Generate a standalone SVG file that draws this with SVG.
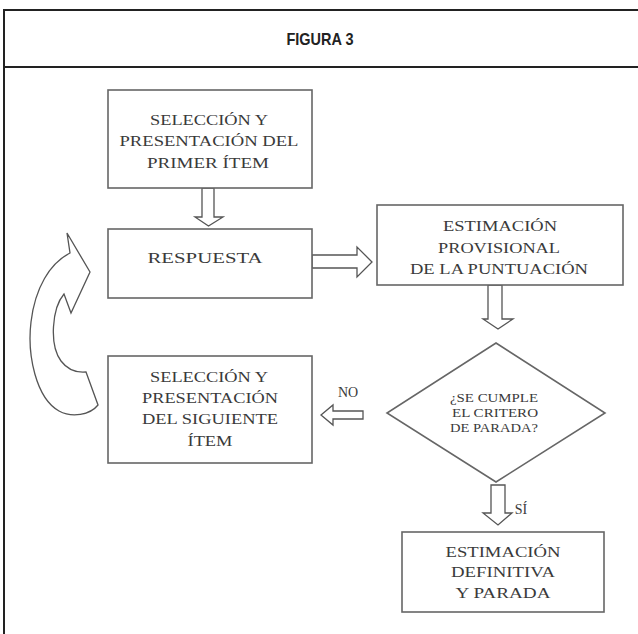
<svg xmlns="http://www.w3.org/2000/svg" width="638" height="634" viewBox="0 0 638 634">
<style>
.frame{fill:none;stroke:#222;stroke-width:2}
.box{fill:#fff;stroke:#666;stroke-width:1.6}
.arr{fill:#fff;stroke:#555;stroke-width:1.3;stroke-linejoin:miter}
.t{font-family:"Liberation Serif","Times New Roman",serif;font-size:15px;fill:#3a3a3a;text-anchor:middle}
.s{font-size:12.5px}
.l{font-size:14px}
.h{font-family:"Liberation Sans",Arial,sans-serif;font-size:17px;font-weight:bold;fill:#222;text-anchor:middle}
</style>
<rect width="638" height="634" fill="#fff"/>
<g id="frame">
<rect class="frame" x="4" y="10" width="700" height="700"/>
<line class="frame" x1="4" y1="67" x2="638" y2="67"/>
<text class="h" x="320" y="45" textLength="67" lengthAdjust="spacingAndGlyphs">FIGURA 3</text>
</g>
<g id="connectors">
<path class="arr" d="M202,188 L214,188 L214,217 L223,217 L208.5,226 L195,217 L202,217 Z"/>
<path class="arr" d="M312,255 L357,255 L357,247 L372,262 L357,277 L357,268 L312,268 Z"/>
<path class="arr" d="M488,285 L502,285 L502,319 L513,319 L498,329 L483,319 L488,319 Z"/>
<path class="arr" d="M363,411 L333,411 L333,405 L321,415 L333,425 L333,419 L363,419 Z"/>
<path class="arr" d="M491,485 L505,485 L505,513 L512,513 L498,525 L483,513 L491,513 Z"/>
<path class="arr" d="M67,233 L90,272 L71,313 L64,294 C52,308 49,345 61,361 C67,369 75,373 86,372 L98,405 C90,415 72,418 59,411 C36,398 27,355 31,322 C35,288 50,263 70,253 Z"/>
<text class="t l" x="348" y="397">NO</text>
<text class="t l" x="521" y="514">SÍ</text>
</g>
<g id="n1">
<rect class="box" x="108" y="90" width="204" height="98"/>
<text class="t" x="209" y="125" textLength="118" lengthAdjust="spacingAndGlyphs">SELECCIÓN Y</text>
<text class="t" x="209" y="146" textLength="179" lengthAdjust="spacingAndGlyphs">PRESENTACIÓN DEL</text>
<text class="t" x="208" y="168" textLength="122" lengthAdjust="spacingAndGlyphs">PRIMER ÍTEM</text>
</g>
<g id="n2">
<rect class="box" x="108" y="229" width="204" height="69"/>
<text class="t" x="205" y="263" textLength="115" lengthAdjust="spacingAndGlyphs">RESPUESTA</text>
</g>
<g id="n3">
<rect class="box" x="377" y="205" width="246" height="80"/>
<text class="t" x="500" y="231" textLength="114" lengthAdjust="spacingAndGlyphs">ESTIMACIÓN</text>
<text class="t" x="499" y="253" textLength="122" lengthAdjust="spacingAndGlyphs">PROVISIONAL</text>
<text class="t" x="499" y="274" textLength="178" lengthAdjust="spacingAndGlyphs">DE LA PUNTUACIÓN</text>
</g>
<g id="n4">
<polygon class="box" points="496,343 605,413 496,482 387,413"/>
<text class="t s" x="494" y="402" textLength="88" lengthAdjust="spacingAndGlyphs">¿SE CUMPLE</text>
<text class="t s" x="495" y="417" textLength="86" lengthAdjust="spacingAndGlyphs">EL CRITERO</text>
<text class="t s" x="494" y="432" textLength="88" lengthAdjust="spacingAndGlyphs">DE PARADA?</text>
</g>
<g id="n5">
<rect class="box" x="108" y="356" width="204" height="107"/>
<text class="t" x="209" y="382" textLength="118" lengthAdjust="spacingAndGlyphs">SELECCIÓN Y</text>
<text class="t" x="210" y="403" textLength="136" lengthAdjust="spacingAndGlyphs">PRESENTACIÓN</text>
<text class="t" x="210" y="424" textLength="136" lengthAdjust="spacingAndGlyphs">DEL SIGUIENTE</text>
<text class="t" x="210" y="446" textLength="45" lengthAdjust="spacingAndGlyphs">ÍTEM</text>
</g>
<g id="n6">
<rect class="box" x="402" y="532" width="202" height="80"/>
<text class="t" x="503" y="557" textLength="115" lengthAdjust="spacingAndGlyphs">ESTIMACIÓN</text>
<text class="t" x="503" y="577" textLength="104" lengthAdjust="spacingAndGlyphs">DEFINITIVA</text>
<text class="t" x="503" y="598" textLength="95" lengthAdjust="spacingAndGlyphs">Y PARADA</text>
</g>
</svg>
